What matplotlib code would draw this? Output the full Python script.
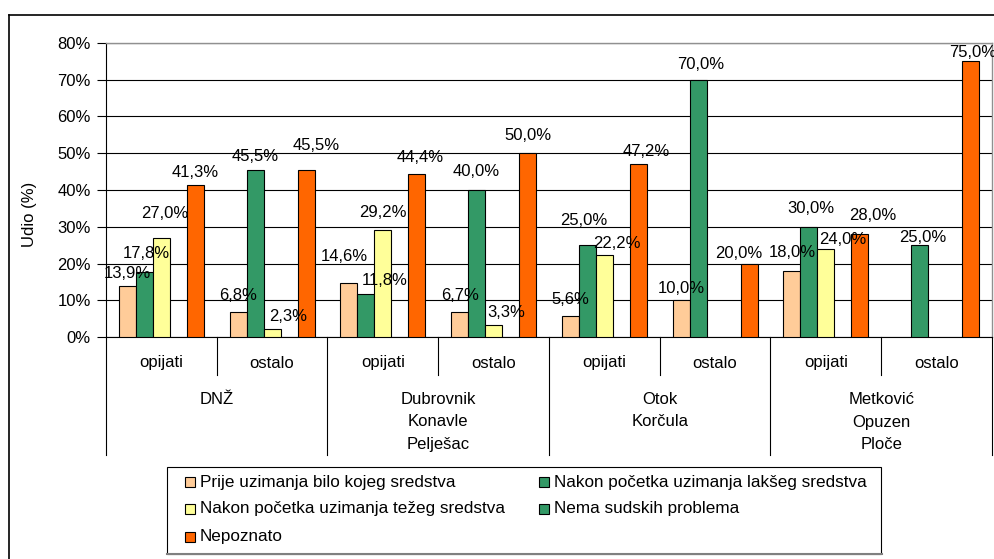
import matplotlib
matplotlib.use('Agg')
import matplotlib.pyplot as plt
import numpy as np
from matplotlib.patches import Rectangle
from matplotlib.lines import Line2D
from matplotlib.transforms import blended_transform_factory

plt.rcParams['font.family'] = ['Liberation Sans', 'DejaVu Sans']

regions = ["DNŽ", "Dubrovnik\nKonavle\nPelješac", "Otok\nKorčula", "Metković\nOpuzen\nPloče"]
subcats = ["opijati", "ostalo"]
series_names = ["Prije uzimanja bilo kojeg sredstva",
                "Nakon početka uzimanja lakšeg sredstva",
                "Nakon početka uzimanja težeg sredstva",
                "Nema sudskih problema",
                "Nepoznato"]
colors = ["#FFCC99", "#339966", "#FFFF99", "#339966", "#FF6600"]
nan = np.nan
prije = [13.9, 6.8, 14.6, 6.7, 5.6, 10.0, 18.0, nan]
laksi = [17.8, 45.5, 11.8, 40.0, 25.0, 70.0, 30.0, 25.0]
tezi = [27.0, 2.3, 29.2, 3.3, 22.2, nan, 24.0, nan]
nema = [nan, nan, nan, nan, nan, nan, nan, nan]
nepoznato = [41.3, 45.5, 44.4, 50.0, 47.2, 20.0, 28.0, 75.0]
series = [prije, laksi, tezi, nema, nepoznato]
yticks = [0, 10, 20, 30, 40, 50, 60, 70, 80]

# label nudges (pixels): (series, category) -> (dx, height of label centre above bar top)
label_nudge = {
    (0, 0): (0, 12), (1, 0): (2, 18), (2, 0): (3, 24), (4, 0): (0, 13),
    (0, 1): (0, 17), (1, 1): (0, 13), (2, 1): (16, 12), (4, 1): (10, 24),
    (0, 2): (-5, 27), (1, 2): (19, 13), (2, 2): (0, 17), (4, 2): (3, 16),
    (0, 3): (0, 17), (1, 3): (0, 18), (2, 3): (13, 12), (4, 3): (0, 18),
    (0, 4): (0, 17), (1, 4): (-4, 25), (2, 4): (13, 12), (4, 4): (8, 12),
    (0, 5): (0, 12), (1, 5): (3, 15), (4, 5): (-10, 10),
    (0, 6): (0, 18), (1, 6): (2, 18), (2, 6): (17, 9), (4, 6): (13, 19),
    (1, 7): (3, 8), (4, 7): (2, 9),
}

W, H = 995, 559
fig = plt.figure(figsize=(9.95, 5.59), dpi=100)
def fx(px): return px / W
def fy(py): return 1 - py / H

FS = 12
ax = fig.add_axes([fx(106), fy(337), fx(992) - fx(106), fy(43) - fy(337)])

n = len(prije)
x = np.arange(n)
bw = 0.1535
for k, (vals, c) in enumerate(zip(series, colors)):
    pos = x + (k - 2) * bw
    v = np.array(vals, dtype=float)
    mask = ~np.isnan(v)
    ax.bar(pos[mask], v[mask], width=bw, color=c, edgecolor='black',
           linewidth=0.8, zorder=3)
    for i in np.where(mask)[0]:
        dx, dy = label_nudge.get((k, i), (0, 13))
        ax.annotate(f"{v[i]:.1f}%".replace('.', ','), (pos[i], v[i]), xytext=(dx, dy),
                    textcoords='offset pixels', ha='center', va='center',
                    fontsize=FS, zorder=5, annotation_clip=False)

ax.set_xlim(-0.5, n - 0.5)
ax.set_ylim(0, 80)
ax.set_yticks(yticks)
ax.set_yticklabels([f"{t}%" for t in yticks], fontsize=FS)
ax.tick_params(axis='y', direction='out', length=6.5, width=0.8, pad=4.5, color='black')
ax.set_xticks([])
ax.yaxis.grid(True, color='black', linewidth=0.8)
ax.set_axisbelow(True)
for s in ['top', 'right']:
    ax.spines[s].set_color('#909090')
    ax.spines[s].set_linewidth(1.0)
for s in ['left', 'bottom']:
    ax.spines[s].set_color('black')
    ax.spines[s].set_linewidth(0.8)
ax.set_ylabel("Udio (%)", fontsize=FS)
ax.yaxis.set_label_coords((37 - 106) / 886, (337 - 214) / 294)

# multi-level category axis
tr = blended_transform_factory(ax.transData, fig.transFigure)
for i in range(n + 1):
    xb = i - 0.5
    y_end = 455 if i % 2 == 0 else 375
    fig.add_artist(Line2D([xb, xb], [fy(337), fy(y_end)], transform=tr,
                          color='black', linewidth=0.8))
for i in range(n):
    fig.text(i, fy(363), subcats[i % 2], transform=tr, ha='center', va='center', fontsize=FS)
for g, name in enumerate(regions):
    nl = name.count('\n')
    fig.text(2 * g + 0.5, fy(399 + nl * 23 / 2), name, transform=tr, ha='center',
             va='center', fontsize=FS, linespacing=1.6)

# outer frame
fig.add_artist(Line2D([fx(9), fx(995)], [fy(15), fy(15)], color='black', linewidth=1.2))
fig.add_artist(Line2D([fx(9), fx(9)], [fy(15), fy(559)], color='black', linewidth=1.2))

# legend
fig.add_artist(Rectangle((fx(167), fy(554)), fx(881) - fx(167), fy(467) - fy(554),
                         facecolor='white', edgecolor='black', linewidth=0.8))
fig.add_artist(Line2D([fx(167), fx(882)], [fy(554), fy(554)], color='#808080', linewidth=1.5))
order = [(0, 0), (1, 0), (2, 1), (3, 1), (4, 2)]
col_x = [185, 539]
row_y = [482, 509, 537]
for idx, (si, row) in enumerate(order):
    col = idx % 2 if idx < 4 else 0
    sx = col_x[col]
    sy = row_y[row]
    fig.add_artist(Rectangle((fx(sx), fy(sy + 5)), fx(10), 10 / H,
                             facecolor=colors[si], edgecolor='black', linewidth=0.8))
    fig.text(fx(sx + 15), fy(sy), series_names[si], ha='left', va='center', fontsize=12.3)

fig.savefig("out.png", dpi=100)
